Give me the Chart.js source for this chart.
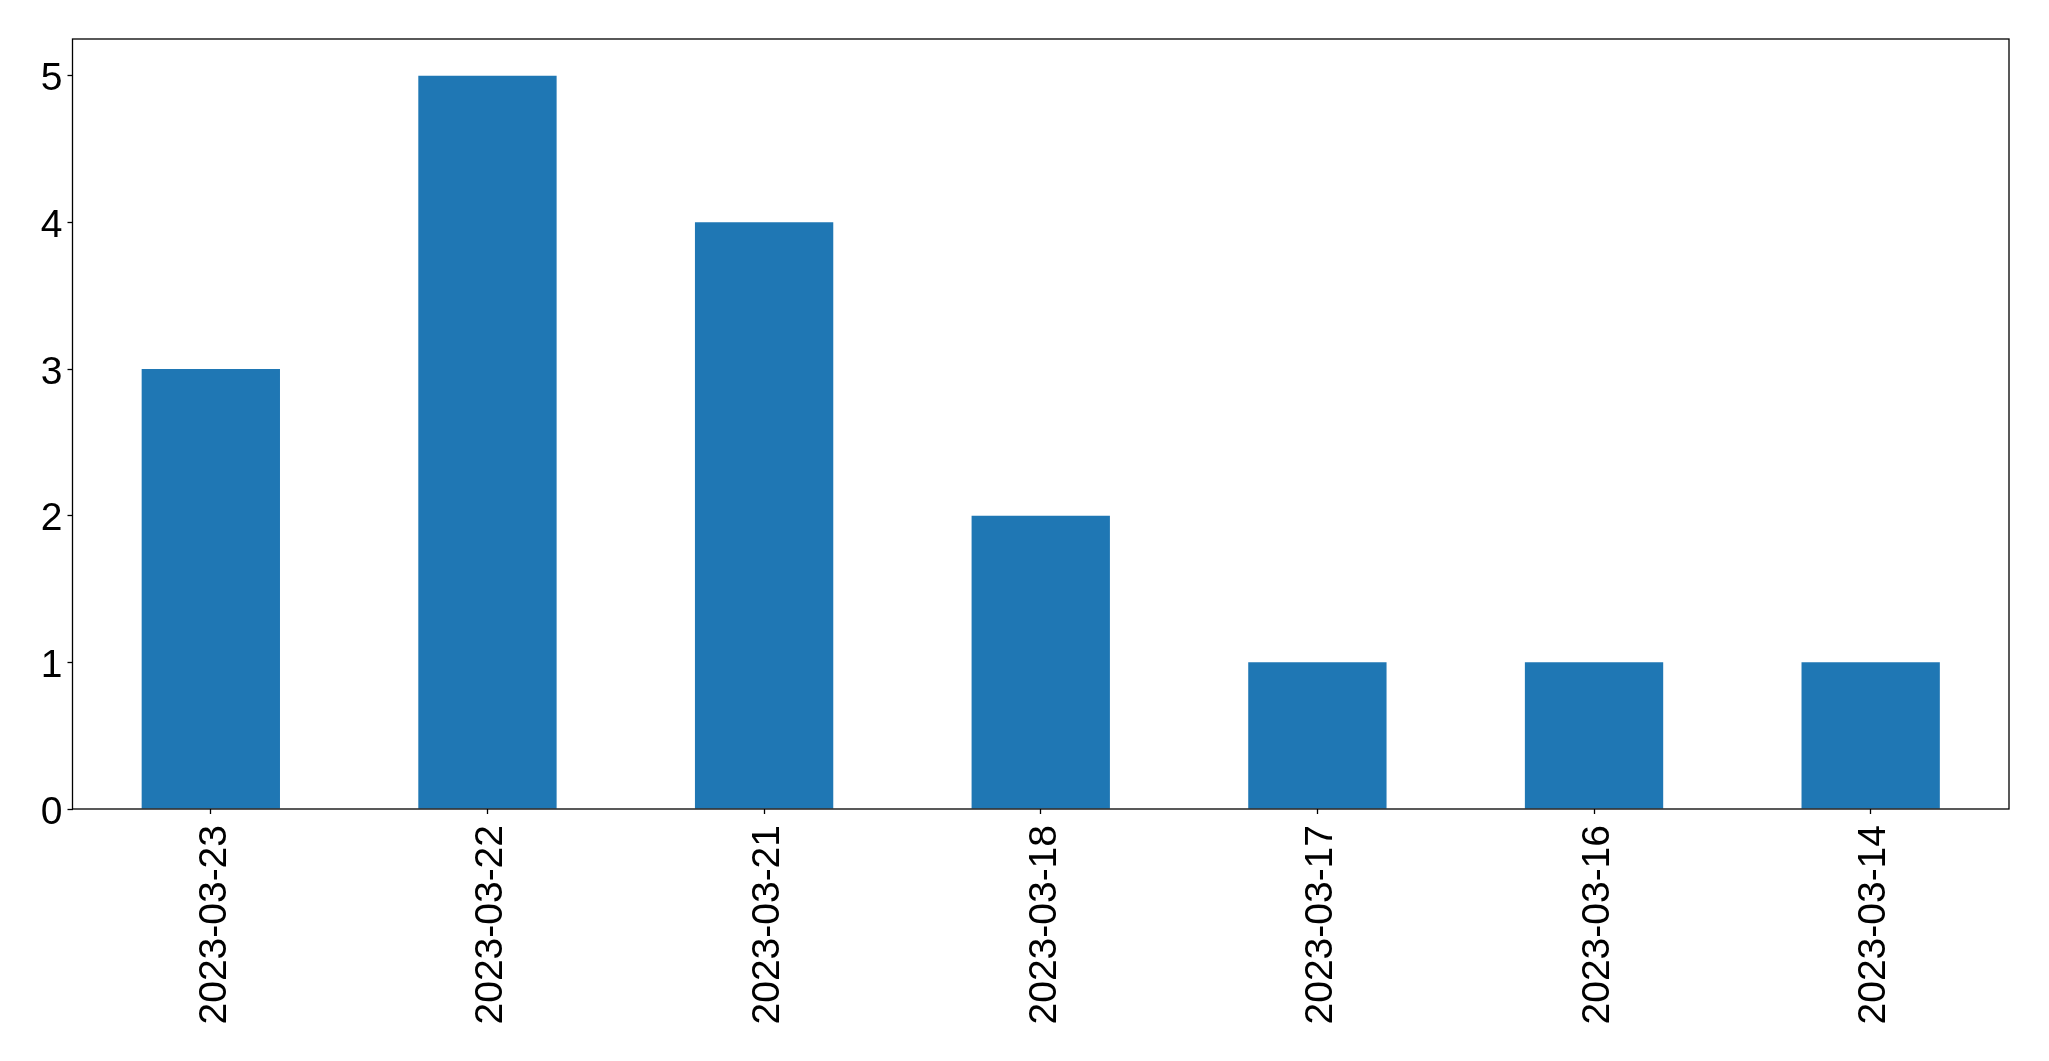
<!DOCTYPE html>
<html>
<head>
<meta charset="utf-8">
<script src="https://cdn.jsdelivr.net/npm/chart.js@4.4.0/dist/chart.umd.min.js"></script>
<style>
  html, body { margin: 0; padding: 0; background: #fff; }
  #wrap { width: 2049px; height: 1061px; }
</style>
</head>
<body>
<div id="wrap"><canvas id="barChart" width="2049" height="1061"></canvas></div>
<script>
const dates = [
  "2023-03-23",
  "2023-03-22",
  "2023-03-21",
  "2023-03-18",
  "2023-03-17",
  "2023-03-16",
  "2023-03-14",
];
const counts = [3, 5, 4, 2, 1, 1, 1];
const yTicks = [0, 1, 2, 3, 4, 5];

// box around the plot, like matplotlib's spines
const frame = {
  id: "frame",
  afterDatasetsDraw(chart) {
    const a = chart.chartArea;
    const c = chart.ctx;
    c.save();
    c.strokeStyle = "#000";
    c.lineWidth = 1.3;
    c.strokeRect(a.left, a.top, a.right - a.left, a.bottom - a.top);
    c.restore();
  },
};

new Chart(document.getElementById("barChart"), {
  type: "bar",
  data: {
    labels: dates,
    datasets: [
      {
        data: counts,
        backgroundColor: "#1f77b4",
        borderWidth: 0,
        categoryPercentage: 1.0,
        barPercentage: 0.5,
      },
    ],
  },
  options: {
    responsive: false,
    animation: false,
    layout: { padding: { top: 39, right: 40, left: 0, bottom: 0 } },
    plugins: {
      legend: { display: false },
      tooltip: { enabled: false },
    },
    scales: {
      x: {
        offset: true,
        grid: {
          offset: false,
          drawOnChartArea: false,
          tickLength: 5,
          tickColor: "#000",
          tickWidth: 1.3,
        },
        border: { display: false },
        ticks: {
          color: "#000",
          padding: 11,
          labelOffset: 4,
          minRotation: 90,
          maxRotation: 90,
          autoSkip: false,
          font: { family: "Liberation Sans", size: 39 },
        },
        afterFit: (scale) => {
          scale.height = 252;
        },
      },
      y: {
        min: 0,
        max: 5.25,
        grid: {
          drawOnChartArea: false,
          tickLength: 5,
          tickColor: "#000",
          tickWidth: 1.3,
        },
        border: { display: false },
        afterBuildTicks: (scale) => {
          scale.ticks = yTicks.map((v) => ({ value: v }));
        },
        ticks: {
          color: "#000",
          padding: 5,
          labelOffset: 4,
          font: { family: "Liberation Sans", size: 39 },
        },
        afterFit: (scale) => {
          scale.width = 72.5;
        },
      },
    },
  },
  plugins: [frame],
});
</script>
</body>
</html>
